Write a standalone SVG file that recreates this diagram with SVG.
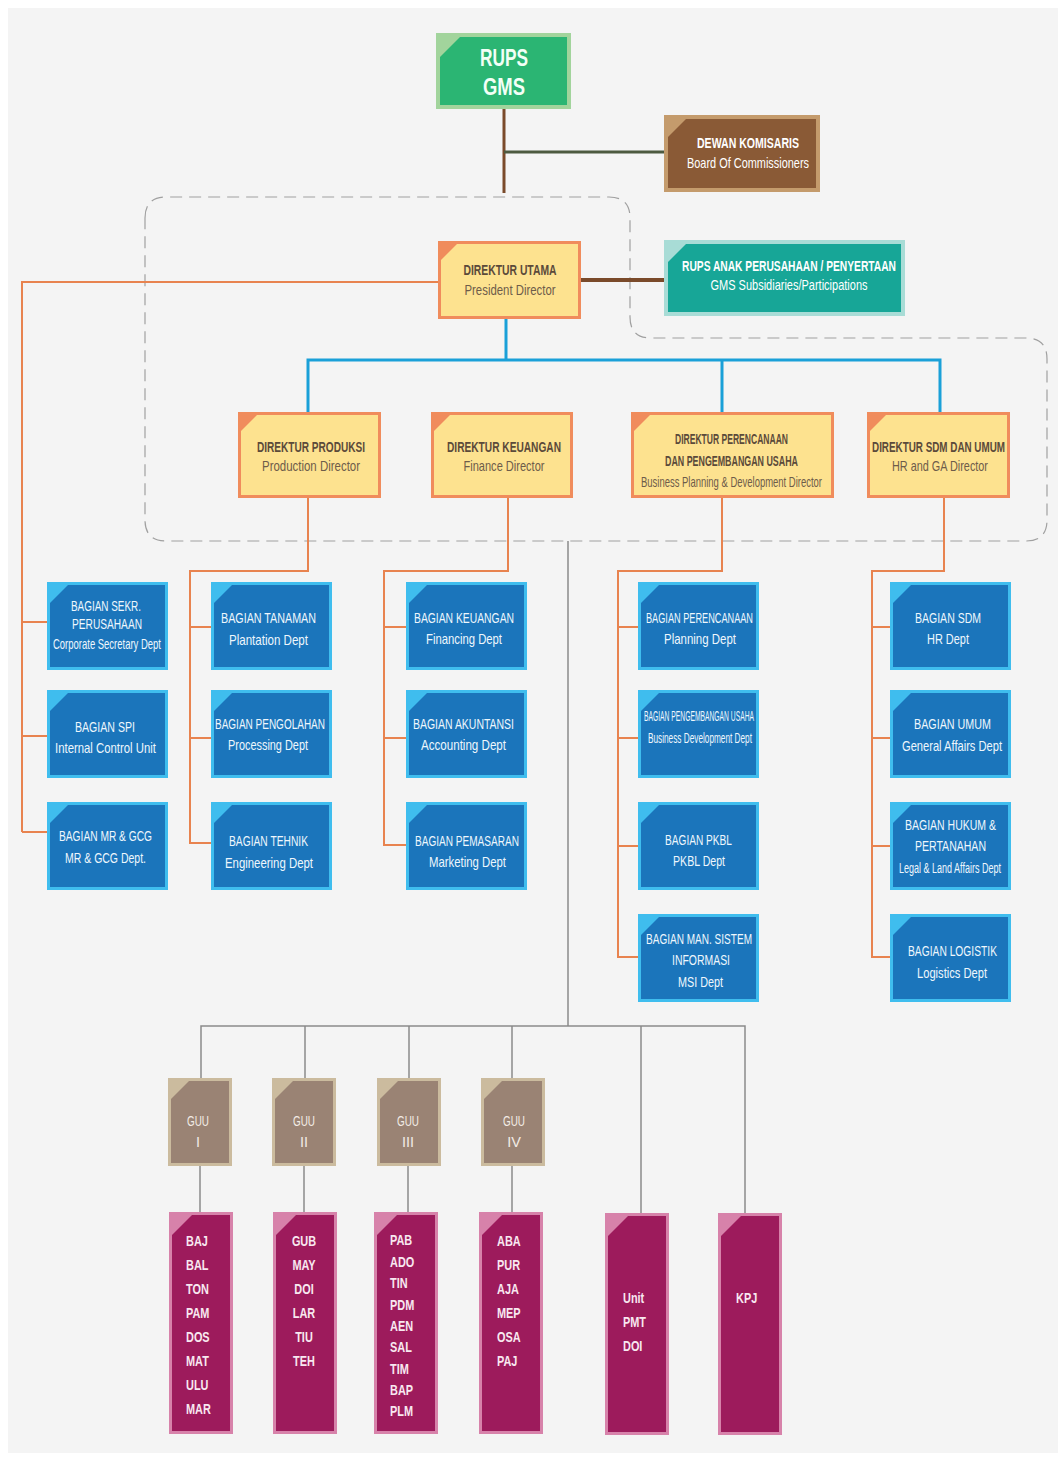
<svg xmlns="http://www.w3.org/2000/svg" width="1058" height="1461" viewBox="0 0 1058 1461">
<style>
text{font-family:'Liberation Sans',Arial,sans-serif;dominant-baseline:central;text-anchor:middle}
.b{font-weight:bold}
.gr-o{fill:#a2d49c}.gr-i{fill:#2bb573}
.br-o{fill:#c49b6c}.br-i{fill:#8a5a36}
.ye-o{fill:#f08c5c}.ye-i{fill:#fde28f}
.te-o{fill:#a8dcd6}.te-i{fill:#17a697}
.bl-o{fill:#3fbdee}.bl-i{fill:#1b75bb}
.gu-o{fill:#cbbb9e}.gu-i{fill:#9a8374}
.mg-o{fill:#d782aa}.mg-i{fill:#9d1b5c}
.wt{fill:#ffffff;font-size:14.5px}
.yt{fill:#5b4a3a;font-size:14.5px}
.ys{fill:#6e5c4a;font-size:14.5px}
.bt{fill:#eef7fd;font-size:14.5px}
.gt{fill:#f3ece6;font-size:14.5px}
.mt{fill:#f8e8f0;font-size:14px;font-weight:bold;text-anchor:start}
.mc{fill:#f8e8f0;font-size:14px;font-weight:bold;text-anchor:middle}
.or{stroke:#e8834f;stroke-width:2;fill:none}
.gy{stroke:#8a8a8a;stroke-width:1.5;fill:none}
</style>
<rect x="0" y="0" width="1058" height="1461" fill="#ffffff"/>
<rect x="8" y="8" width="1050" height="1445" fill="#f4f4f4"/>

<path d="M145,218 Q145,197 166,197 L609,197 Q630,197 630,218 L630,317 Q630,338 651,338 L1026,338 Q1047,338 1047,359 L1047,520 Q1047,541 1026,541 L166,541 Q145,541 145,520 Z" fill="none" stroke="#a0a0a0" stroke-width="1.2" stroke-dasharray="12 7"/>

<g id="connectors">
<line x1="504" y1="109" x2="504" y2="193" stroke="#7a4a2a" stroke-width="3"/>
<line x1="504" y1="152" x2="664" y2="152" stroke="#4d5a40" stroke-width="3"/>
<line x1="581" y1="280" x2="664" y2="280" stroke="#7a4a2a" stroke-width="4"/>
<path d="M438,282 H22 V832 M22,622 H47 M22,736 H47 M22,832 H47" class="or"/>
<path d="M506,319 V360 M308,412 V360 H940 V412 M722,360 V412" stroke="#1aa0d8" stroke-width="3" fill="none"/>
<path d="M308,498 V571 H190 V843 H211 M190,627 H211 M190,738 H211" class="or"/>
<path d="M508,498 V571 H384 V845 H406 M384,627 H406 M384,738 H406" class="or"/>
<path d="M722,498 V571 H618 V957 H638 M618,627 H638 M618,738 H638 M618,846 H638" class="or"/>
<path d="M944,498 V571 H872 V957 H890 M872,627 H890 M872,738 H890 M872,846 H890" class="or"/>
<path d="M568,541 V1026 M201,1078 V1026 H745 V1213 M305,1026 V1078 M409,1026 V1078 M512,1026 V1078 M641,1026 V1213" class="gy"/>
<path d="M200,1166 V1212 M304,1166 V1212 M408,1166 V1212 M512,1166 V1212" class="gy"/>
</g>

<g id="rups">
<rect x="436" y="33" width="135" height="76" class="gr-o"/>
<polygon points="460,37 567,37 567,105 440,105 440,57" class="gr-i"/>
<text x="504" y="58" class="b" fill="#f2fff6" font-size="23" textLength="48" lengthAdjust="spacingAndGlyphs">RUPS</text>
<text x="504" y="87" class="b" fill="#f2fff6" font-size="23" textLength="42" lengthAdjust="spacingAndGlyphs">GMS</text>
</g>

<g id="dewan-komisaris">
<rect x="664" y="115" width="156" height="77" class="br-o"/>
<polygon points="686,119 816,119 816,188 668,188 668,137" class="br-i"/>
<text x="748" y="143" class="wt b" textLength="102" lengthAdjust="spacingAndGlyphs">DEWAN KOMISARIS</text>
<text x="748" y="163" class="wt" fill="#f3e6d8" textLength="122" lengthAdjust="spacingAndGlyphs">Board Of Commissioners</text>
</g>

<g id="direktur-utama">
<rect x="438" y="241" width="143" height="78" class="ye-o"/>
<polygon points="457,244 578,244 578,316 441,316 441,260" class="ye-i"/>
<text x="510" y="270" class="yt b" textLength="93" lengthAdjust="spacingAndGlyphs">DIREKTUR UTAMA</text>
<text x="510" y="290" class="ys" textLength="91" lengthAdjust="spacingAndGlyphs">President Director</text>
</g>

<g id="rups-anak">
<rect x="664" y="240" width="241" height="76" class="te-o"/>
<polygon points="686,244 901,244 901,312 668,312 668,262" class="te-i"/>
<text x="789" y="266" class="wt b" textLength="214" lengthAdjust="spacingAndGlyphs">RUPS ANAK PERUSAHAAN / PENYERTAAN</text>
<text x="789" y="285" class="wt" textLength="157" lengthAdjust="spacingAndGlyphs">GMS Subsidiaries/Participations</text>
</g>

<g id="dir-produksi">
<rect x="238" y="412" width="143" height="86" class="ye-o"/>
<polygon points="257,415 378,415 378,495 241,495 241,431" class="ye-i"/>
<text x="311" y="447" class="yt b" textLength="108" lengthAdjust="spacingAndGlyphs">DIREKTUR PRODUKSI</text>
<text x="311" y="466" class="ys" textLength="98" lengthAdjust="spacingAndGlyphs">Production Director</text>
</g>
<g id="dir-keuangan">
<rect x="431" y="412" width="142" height="86" class="ye-o"/>
<polygon points="450,415 570,415 570,495 434,495 434,431" class="ye-i"/>
<text x="504" y="447" class="yt b" textLength="114" lengthAdjust="spacingAndGlyphs">DIREKTUR KEUANGAN</text>
<text x="504" y="466" class="ys" textLength="81" lengthAdjust="spacingAndGlyphs">Finance Director</text>
</g>
<g id="dir-perencanaan">
<rect x="631" y="412" width="203" height="86" class="ye-o"/>
<polygon points="650,415 831,415 831,495 634,495 634,431" class="ye-i"/>
<text x="731.5" y="439" class="yt b" font-size="13" textLength="113" lengthAdjust="spacingAndGlyphs">DIREKTUR PERENCANAAN</text>
<text x="731.5" y="461" class="yt b" font-size="13" textLength="133" lengthAdjust="spacingAndGlyphs">DAN PENGEMBANGAN USAHA</text>
<text x="731.5" y="482" class="ys" font-size="12" textLength="181" lengthAdjust="spacingAndGlyphs">Business Planning &amp; Development Director</text>
</g>
<g id="dir-sdm">
<rect x="867" y="412" width="143" height="86" class="ye-o"/>
<polygon points="886,415 1007,415 1007,495 870,495 870,431" class="ye-i"/>
<g transform="translate(938.5,447) scale(0.7,1)">
<text x="0" y="0" class="yt b" font-size="14" textLength="190" lengthAdjust="spacingAndGlyphs">DIREKTUR SDM DAN UMUM</text>
</g>
<text x="940" y="466" class="ys" textLength="96" lengthAdjust="spacingAndGlyphs">HR and GA Director</text>
</g>

<g id="sekr">
<rect x="47" y="582" width="121" height="88" class="bl-o"/>
<polygon points="68,585 165,585 165,667 50,667 50,603" class="bl-i"/>
<text x="106" y="606" class="bt" textLength="70" lengthAdjust="spacingAndGlyphs">BAGIAN SEKR.</text>
<text x="107" y="624" class="bt" textLength="70" lengthAdjust="spacingAndGlyphs">PERUSAHAAN</text>
<text x="107" y="644" class="bt" textLength="108" lengthAdjust="spacingAndGlyphs">Corporate Secretary Dept</text>
</g>
<g id="spi">
<rect x="47" y="690" width="121" height="88" class="bl-o"/>
<polygon points="68,693 165,693 165,775 50,775 50,711" class="bl-i"/>
<text x="105" y="727" class="bt" textLength="60" lengthAdjust="spacingAndGlyphs">BAGIAN  SPI</text>
<text x="105.5" y="748" class="bt" textLength="101" lengthAdjust="spacingAndGlyphs">Internal Control Unit</text>
</g>
<g id="mr-gcg">
<rect x="47" y="802" width="121" height="88" class="bl-o"/>
<polygon points="68,805 165,805 165,887 50,887 50,823" class="bl-i"/>
<text x="105.5" y="836" class="bt" textLength="93" lengthAdjust="spacingAndGlyphs">BAGIAN MR &amp; GCG</text>
<text x="105.5" y="858" class="bt" textLength="81" lengthAdjust="spacingAndGlyphs">MR &amp; GCG Dept.</text>
</g>

<g id="tanaman">
<rect x="211" y="582" width="121" height="88" class="bl-o"/>
<polygon points="232,585 329,585 329,667 214,667 214,603" class="bl-i"/>
<text x="268.5" y="618" class="bt" textLength="95" lengthAdjust="spacingAndGlyphs">BAGIAN TANAMAN</text>
<text x="268.5" y="640" class="bt" textLength="79" lengthAdjust="spacingAndGlyphs">Plantation Dept</text>
</g>
<g id="pengolahan">
<rect x="211" y="690" width="121" height="88" class="bl-o"/>
<polygon points="232,693 329,693 329,775 214,775 214,711" class="bl-i"/>
<text x="270" y="724" class="bt" textLength="110" lengthAdjust="spacingAndGlyphs">BAGIAN PENGOLAHAN</text>
<text x="268" y="745" class="bt" textLength="80" lengthAdjust="spacingAndGlyphs">Processing Dept</text>
</g>
<g id="tehnik">
<rect x="211" y="802" width="121" height="88" class="bl-o"/>
<polygon points="232,805 329,805 329,887 214,887 214,823" class="bl-i"/>
<text x="268.5" y="841" class="bt" textLength="79" lengthAdjust="spacingAndGlyphs">BAGIAN TEHNIK</text>
<text x="269" y="863" class="bt" textLength="88" lengthAdjust="spacingAndGlyphs">Engineering Dept</text>
</g>

<g id="keuangan">
<rect x="406" y="582" width="121" height="88" class="bl-o"/>
<polygon points="427,585 524,585 524,667 409,667 409,603" class="bl-i"/>
<text x="464" y="618" class="bt" textLength="100" lengthAdjust="spacingAndGlyphs">BAGIAN KEUANGAN</text>
<text x="464" y="639" class="bt" textLength="76" lengthAdjust="spacingAndGlyphs">Financing Dept</text>
</g>
<g id="akuntansi">
<rect x="406" y="690" width="121" height="88" class="bl-o"/>
<polygon points="427,693 524,693 524,775 409,775 409,711" class="bl-i"/>
<text x="463.5" y="724" class="bt" textLength="101" lengthAdjust="spacingAndGlyphs">BAGIAN AKUNTANSI</text>
<text x="463.5" y="745" class="bt" textLength="85" lengthAdjust="spacingAndGlyphs">Accounting Dept</text>
</g>
<g id="pemasaran">
<rect x="406" y="802" width="121" height="88" class="bl-o"/>
<polygon points="427,805 524,805 524,887 409,887 409,823" class="bl-i"/>
<text x="467" y="841" class="bt" textLength="104" lengthAdjust="spacingAndGlyphs">BAGIAN PEMASARAN</text>
<text x="467.5" y="862" class="bt" textLength="77" lengthAdjust="spacingAndGlyphs">Marketing Dept</text>
</g>

<g id="perencanaan">
<rect x="638" y="582" width="121" height="88" class="bl-o"/>
<polygon points="659,585 756,585 756,667 641,667 641,603" class="bl-i"/>
<text x="699.5" y="618" class="bt" textLength="107" lengthAdjust="spacingAndGlyphs">BAGIAN PERENCANAAN</text>
<text x="700" y="639" class="bt" textLength="72" lengthAdjust="spacingAndGlyphs">Planning Dept</text>
</g>
<g id="pengembangan">
<rect x="638" y="690" width="121" height="88" class="bl-o"/>
<polygon points="659,693 756,693 756,775 641,775 641,711" class="bl-i"/>
<text x="699" y="716" class="bt" font-size="11.5" textLength="110" lengthAdjust="spacingAndGlyphs">BAGIAN PENGEMBANGAN  USAHA</text>
<text x="700" y="738" class="bt" font-size="12.5" textLength="104" lengthAdjust="spacingAndGlyphs">Business Development Dept</text>
</g>
<g id="pkbl">
<rect x="638" y="802" width="121" height="88" class="bl-o"/>
<polygon points="659,805 756,805 756,887 641,887 641,823" class="bl-i"/>
<text x="698.5" y="840" class="bt" textLength="67" lengthAdjust="spacingAndGlyphs">BAGIAN PKBL</text>
<text x="699" y="861" class="bt" textLength="52" lengthAdjust="spacingAndGlyphs">PKBL Dept</text>
</g>
<g id="msi">
<rect x="638" y="914" width="121" height="88" class="bl-o"/>
<polygon points="659,917 756,917 756,999 641,999 641,935" class="bl-i"/>
<text x="699" y="939" class="bt" textLength="106" lengthAdjust="spacingAndGlyphs">BAGIAN MAN. SISTEM</text>
<text x="701" y="960" class="bt" textLength="58" lengthAdjust="spacingAndGlyphs">INFORMASI</text>
<text x="700.5" y="982" class="bt" textLength="45" lengthAdjust="spacingAndGlyphs">MSI Dept</text>
</g>

<g id="sdm">
<rect x="890" y="582" width="121" height="88" class="bl-o"/>
<polygon points="911,585 1008,585 1008,667 893,667 893,603" class="bl-i"/>
<text x="948" y="618" class="bt" textLength="66" lengthAdjust="spacingAndGlyphs">BAGIAN SDM</text>
<text x="948" y="639" class="bt" textLength="42" lengthAdjust="spacingAndGlyphs">HR Dept</text>
</g>
<g id="umum">
<rect x="890" y="690" width="121" height="88" class="bl-o"/>
<polygon points="911,693 1008,693 1008,775 893,775 893,711" class="bl-i"/>
<text x="952.5" y="724" class="bt" textLength="77" lengthAdjust="spacingAndGlyphs">BAGIAN UMUM</text>
<text x="952" y="746" class="bt" textLength="100" lengthAdjust="spacingAndGlyphs">General Affairs Dept</text>
</g>
<g id="hukum">
<rect x="890" y="802" width="121" height="88" class="bl-o"/>
<polygon points="911,805 1008,805 1008,887 893,887 893,823" class="bl-i"/>
<text x="950.5" y="825" class="bt" textLength="91" lengthAdjust="spacingAndGlyphs">BAGIAN HUKUM &amp;</text>
<text x="950.5" y="846" class="bt" textLength="71" lengthAdjust="spacingAndGlyphs">PERTANAHAN</text>
<g transform="translate(950,868) scale(0.6,1)">
<text x="0" y="0" class="bt" font-size="13.5" textLength="170" lengthAdjust="spacingAndGlyphs">Legal &amp; Land Affairs Dept</text>
</g>
</g>
<g id="logistik">
<rect x="890" y="914" width="121" height="88" class="bl-o"/>
<polygon points="911,917 1008,917 1008,999 893,999 893,935" class="bl-i"/>
<text x="952.5" y="951" class="bt" textLength="89" lengthAdjust="spacingAndGlyphs">BAGIAN LOGISTIK</text>
<text x="952" y="973" class="bt" textLength="70" lengthAdjust="spacingAndGlyphs">Logistics Dept</text>
</g>

<g id="guu-1">
<rect x="168" y="1078" width="64" height="88" class="gu-o"/>
<polygon points="189,1081 229,1081 229,1163 171,1163 171,1099" class="gu-i"/>
<text x="198" y="1121" class="gt" textLength="22" lengthAdjust="spacingAndGlyphs">GUU</text>
<text x="198" y="1142" class="gt">I</text>
</g>
<g id="guu-2">
<rect x="272" y="1078" width="64" height="88" class="gu-o"/>
<polygon points="293,1081 333,1081 333,1163 275,1163 275,1099" class="gu-i"/>
<text x="304" y="1121" class="gt" textLength="22" lengthAdjust="spacingAndGlyphs">GUU</text>
<text x="304" y="1142" class="gt">II</text>
</g>
<g id="guu-3">
<rect x="377" y="1078" width="64" height="88" class="gu-o"/>
<polygon points="398,1081 438,1081 438,1163 380,1163 380,1099" class="gu-i"/>
<text x="408" y="1121" class="gt" textLength="22" lengthAdjust="spacingAndGlyphs">GUU</text>
<text x="408" y="1142" class="gt">III</text>
</g>
<g id="guu-4">
<rect x="481" y="1078" width="64" height="88" class="gu-o"/>
<polygon points="502,1081 542,1081 542,1163 484,1163 484,1099" class="gu-i"/>
<text x="514" y="1121" class="gt" textLength="22" lengthAdjust="spacingAndGlyphs">GUU</text>
<text x="514" y="1142" class="gt">IV</text>
</g>

<g id="unit-guu1">
<rect x="169" y="1212" width="64" height="222" class="mg-o"/>
<polygon points="192,1215 230,1215 230,1431 172,1431 172,1235" class="mg-i"/>
<g transform="translate(186,0) scale(0.78,1)">
<text x="0" y="1242" class="mt">BAJ</text><text x="0" y="1266" class="mt">BAL</text><text x="0" y="1290" class="mt">TON</text><text x="0" y="1314" class="mt">PAM</text><text x="0" y="1338" class="mt">DOS</text><text x="0" y="1362" class="mt">MAT</text><text x="0" y="1386" class="mt">ULU</text><text x="0" y="1410" class="mt">MAR</text>
</g>
</g>
<g id="unit-guu2">
<rect x="273" y="1212" width="64" height="222" class="mg-o"/>
<polygon points="296,1215 334,1215 334,1431 276,1431 276,1235" class="mg-i"/>
<g transform="translate(304,0) scale(0.78,1)">
<text x="0" y="1242" class="mc">GUB</text><text x="0" y="1266" class="mc">MAY</text><text x="0" y="1290" class="mc">DOI</text><text x="0" y="1314" class="mc">LAR</text><text x="0" y="1338" class="mc">TIU</text><text x="0" y="1362" class="mc">TEH</text>
</g>
</g>
<g id="unit-guu3">
<rect x="374" y="1212" width="64" height="222" class="mg-o"/>
<polygon points="397,1215 435,1215 435,1431 377,1431 377,1235" class="mg-i"/>
<g transform="translate(390,0) scale(0.78,1)">
<text x="0" y="1241" class="mt">PAB</text><text x="0" y="1263" class="mt">ADO</text><text x="0" y="1284" class="mt">TIN</text><text x="0" y="1306" class="mt">PDM</text><text x="0" y="1327" class="mt">AEN</text><text x="0" y="1348" class="mt">SAL</text><text x="0" y="1370" class="mt">TIM</text><text x="0" y="1391" class="mt">BAP</text><text x="0" y="1412" class="mt">PLM</text>
</g>
</g>
<g id="unit-guu4">
<rect x="479" y="1212" width="64" height="222" class="mg-o"/>
<polygon points="502,1215 540,1215 540,1431 482,1431 482,1235" class="mg-i"/>
<g transform="translate(497,0) scale(0.78,1)">
<text x="0" y="1242" class="mt">ABA</text><text x="0" y="1266" class="mt">PUR</text><text x="0" y="1290" class="mt">AJA</text><text x="0" y="1314" class="mt">MEP</text><text x="0" y="1338" class="mt">OSA</text><text x="0" y="1362" class="mt">PAJ</text>
</g>
</g>
<g id="unit-pmt">
<rect x="605" y="1213" width="64" height="222" class="mg-o"/>
<polygon points="628,1216 666,1216 666,1432 608,1432 608,1236" class="mg-i"/>
<g transform="translate(623,0) scale(0.78,1)">
<text x="0" y="1299" class="mt">Unit</text><text x="0" y="1323" class="mt">PMT</text><text x="0" y="1347" class="mt">DOI</text>
</g>
</g>
<g id="kpj">
<rect x="718" y="1213" width="64" height="222" class="mg-o"/>
<polygon points="741,1216 779,1216 779,1432 721,1432 721,1236" class="mg-i"/>
<g transform="translate(736,0) scale(0.78,1)">
<text x="0" y="1299" class="mt">KPJ</text>
</g>
</g>
</svg>
